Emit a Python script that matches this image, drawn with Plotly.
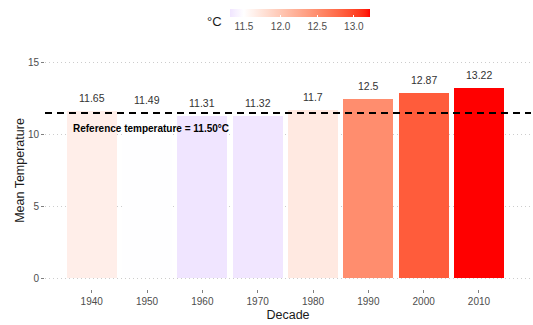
import numpy as np
import plotly.graph_objects as go

# ---- data ----
decades = [1940, 1950, 1960, 1970, 1980, 1990, 2000, 2010]
mean_temp = [11.65, 11.49, 11.31, 11.32, 11.70, 12.50, 12.87, 13.22]
ref_temp = 11.50
y_ticks = [0, 5, 10, 15]
legend_ticks = [11.5, 12.0, 12.5, 13.0]
legend_ticktext = ["11.5", "12.0", "12.5", "13.0"]

# ---- Lab-space diverging gradient (low=blue, mid=white, high=red) ----
def _to_lin(c):
    c = c / 255.0
    return np.where(c <= 0.04045, c / 12.92, ((c + 0.055) / 1.055) ** 2.4)

def _from_lin(c):
    c = np.clip(c, 0, 1)
    v = np.where(c <= 0.0031308, 12.92 * c, 1.055 * c ** (1 / 2.4) - 0.055)
    return np.clip(np.round(v * 255), 0, 255).astype(int)

M = np.array([[0.4124564, 0.3575761, 0.1804375],
              [0.2126729, 0.7151522, 0.0721750],
              [0.0193339, 0.1191920, 0.9503041]])
WHITE = np.array([0.95047, 1.0, 1.08883])

def rgb2lab(rgb):
    xyz = M @ _to_lin(np.array(rgb, float)) / WHITE
    f = np.where(xyz > 216 / 24389, np.cbrt(xyz), (24389 / 27 * xyz + 16) / 116)
    return np.array([116 * f[1] - 16, 500 * (f[0] - f[1]), 200 * (f[1] - f[2])])

def lab2rgb(lab):
    L, a, b = lab
    fy = (L + 16) / 116
    fx = fy + a / 500
    fz = fy - b / 200
    f = np.array([fx, fy, fz])
    xyz = np.where(f ** 3 > 216 / 24389, f ** 3, (116 * f - 16) / (24389 / 27)) * WHITE
    return _from_lin(np.linalg.inv(M) @ xyz)

LOW, MID, HIGH = rgb2lab((0, 0, 255)), rgb2lab((255, 255, 255)), rgb2lab((255, 0, 0))
vmin, vmax = min(mean_temp), max(mean_temp)
maxdev = max(abs(vmin - ref_temp), abs(vmax - ref_temp))

def grad2(v):
    t = (v - ref_temp) / (2 * maxdev) + 0.5
    if t < 0.5:
        lab = LOW + (MID - LOW) * (t / 0.5)
    else:
        lab = MID + (HIGH - MID) * ((t - 0.5) / 0.5)
    r, g, b = lab2rgb(lab)
    return f"rgb({r},{g},{b})"

samples = np.linspace(vmin, vmax, 61)
colorscale = [[(v - vmin) / (vmax - vmin), grad2(v)] for v in samples]

W, H = 533, 325
ML, MR, MT, MB = 45, 2, 52, 36
PW, PH = W - ML - MR, H - MT - MB

fig = go.Figure()
fig.add_trace(go.Bar(
    x=decades, y=mean_temp, width=9,
    marker=dict(
        color=mean_temp, colorscale=colorscale, cmin=vmin, cmax=vmax,
        line=dict(width=0), showscale=True,
        colorbar=dict(
            orientation="h", xref="container", yref="container",
            x=329 / W, xanchor="center", y=1 - 9 / H, yanchor="top",
            len=140, lenmode="pixels", thickness=8, thicknessmode="pixels",
            xpad=0, ypad=0, outlinewidth=0,
            tickvals=legend_ticks, ticktext=legend_ticktext,
            ticks="inside", ticklen=2, tickcolor="white", tickwidth=1,
            tickfont=dict(family="Liberation Sans, Arial", size=10, color="#4D4D4D"),
            title=dict(text=""),
        ),
    ),
    hoverinfo="x+y", showlegend=False,
))

# value labels above bars
for d, v in zip(decades, mean_temp):
    fig.add_annotation(x=d, y=v, text=f"{v:g}", showarrow=False,
                       yanchor="middle", yshift=13,
                       font=dict(family="Liberation Sans, Arial", size=10.5, color="#333333"))

# reference line
fig.add_shape(type="line", xref="paper", x0=0, x1=1, y0=ref_temp, y1=ref_temp,
              line=dict(color="black", width=2, dash="7px,5px"))
fig.add_annotation(x=1950.8, y=10.4, text=f"<b>Reference temperature = {ref_temp:.2f}°C</b>",
                   showarrow=False, xanchor="center", yanchor="middle",
                   font=dict(family="Liberation Sans, Arial", size=10, color="black"))

# legend title
fig.add_annotation(xref="paper", yref="paper", x=(214 - ML) / PW, y=1 + (MT - 22) / PH,
                   text="°C", showarrow=False, xanchor="center", yanchor="middle",
                   font=dict(family="Liberation Sans, Arial", size=13, color="#1A1A1A"))

fig.update_layout(
    width=W, height=H,
    margin=dict(l=ML, r=MR, t=MT, b=MB),
    paper_bgcolor="white", plot_bgcolor="white",
    bargap=0,
    font=dict(family="Liberation Sans, Arial"),
    xaxis=dict(
        range=[1931.56, 2019.4], tickvals=decades, ticktext=[str(d) for d in decades],
        showgrid=False, zeroline=False, showline=False,
        ticks="outside", ticklen=3, tickcolor="#7F7F7F", tickwidth=1,
        tickfont=dict(size=10, color="#4D4D4D"),
        title=dict(text="Decade", font=dict(size=12.5, color="#1A1A1A"), standoff=4),
    ),
    yaxis=dict(
        range=[-0.75, 15.75], tickvals=y_ticks,
        showgrid=True, gridcolor="#CCCCCC", griddash="1px,3px", gridwidth=1,
        zeroline=False, showline=False,
        ticks="outside", ticklen=3, tickcolor="#7F7F7F", tickwidth=1,
        tickfont=dict(size=10, color="#4D4D4D"),
        title=dict(text="Mean Temperature", font=dict(size=12.5, color="#1A1A1A"), standoff=0),
    ),
)

fig.write_html("out.html", config={"displayModeBar": False},
               post_script="document.body.style.margin='0';")
